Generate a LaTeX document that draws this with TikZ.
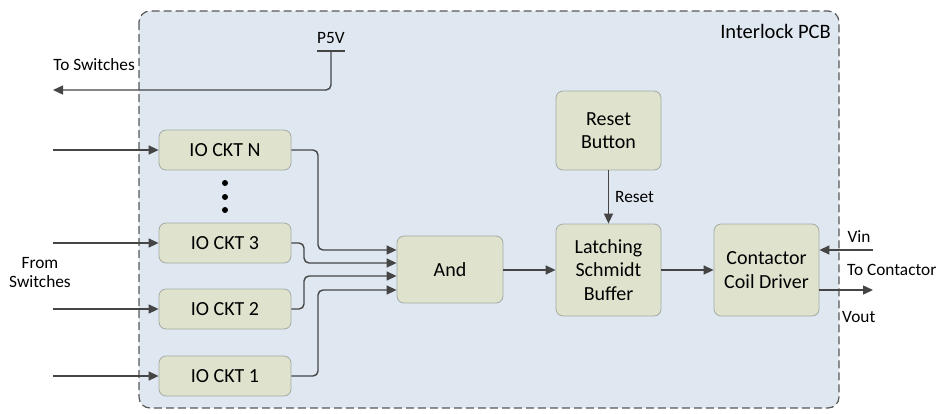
\documentclass[tikz,border=0pt]{standalone}
\usepackage{fontspec}
\setmainfont{Carlito}
\usetikzlibrary{arrows.meta}
\definecolor{pcbfill}{HTML}{DFE8F1}
\definecolor{boxfill}{HTML}{DFE3CD}
\definecolor{boxline}{HTML}{A3AAA3}
\definecolor{wire}{HTML}{454545}
\begin{document}
\begin{tikzpicture}[x=1pt,y=-1pt,
  blk/.style={draw=boxline, fill=boxfill, rounded corners=7pt, line width=0.8pt,
    align=center, inner sep=0pt, font=\fontsize{20}{23.5}\selectfont},
  lbl/.style={font=\fontsize{17.3}{19}\selectfont, inner sep=0pt},
  wr/.style={draw=wire, line width=1.4pt, rounded corners=5pt},
  arr/.style={wr, -{Triangle[length=10pt,width=9pt]}}]
\useasboundingbox (0,0) rectangle (944,413);
% PCB region
\draw[draw=wire!90, fill=pcbfill, dashed, dash pattern=on 8pt off 4pt, line width=1.2pt, rounded corners=11pt]
  (139,11) rectangle (839,408);
\node[lbl, font=\fontsize{20.5}{22}\selectfont, anchor=east] (pcb) at (831,31) {Interlock PCB};
% blocks
\node[blk, minimum width=132pt, minimum height=40pt] (ion) at (225,150) {IO CKT N};
\node[blk, minimum width=132pt, minimum height=40pt] (io3) at (225,243) {IO CKT 3};
\node[blk, minimum width=132pt, minimum height=40pt] (io2) at (225,309) {IO CKT 2};
\node[blk, minimum width=132pt, minimum height=40pt] (io1) at (225,376) {IO CKT 1};
\node[blk, minimum width=106pt, minimum height=67pt] (and) at (450,269.5) {And};
\node[blk, minimum width=105pt, minimum height=79pt] (rst) at (608.5,130.5) {Reset\\Button};
\node[blk, minimum width=105pt, minimum height=92pt] (lat) at (608.5,270) {Latching\\Schmidt\\Buffer};
\node[blk, minimum width=105pt, minimum height=92pt] (con) at (766.5,270) {Contactor\\Coil Driver};
% dots
\fill (225,183) circle (3pt) (225,197) circle (3pt) (225,210) circle (3pt);
% P5V
\node[lbl] (p5v) at (331,38) {P5V};
\coordinate (p5a) at (317,51);
\coordinate (p5b) at (345,51);
\draw[wr] (p5a) -- (p5b);
\coordinate (p5m) at (331,51);
\coordinate (tosw) at (53,90);
\draw[arr] (p5m) |- (tosw);
\node[lbl, anchor=east] (toswl) at (135,65) {To Switches};
% inputs
\coordinate (inN) at (53,150);
\coordinate (in3) at (53,243);
\coordinate (in2) at (53,309);
\coordinate (in1) at (53,376);
\draw[arr] (inN) -- (ion.west);
\draw[arr] (in3) -- (io3.west);
\draw[arr] (in2) -- (io2.west);
\draw[arr] (in1) -- (io1.west);
\node[lbl, align=center] (fromsw) at (40,272.5) {From\\Switches};
% to And
\draw[arr] (ion.east) -- (318,150) |- (and.west |- 0,250);
\draw[arr] (io3.east) -- (304,243) |- (and.west |- 0,263);
\draw[arr] (io2.east) -- (304,309) |- (and.west |- 0,276);
\draw[arr] (io1.east) -- (318,376) |- (and.west |- 0,290);
% chain
\draw[arr] (and.east |- 0,270) -- (lat.west |- 0,270);
\draw[arr] (lat.east |- 0,270) -- (con.west |- 0,270);
\draw[arr] (rst.south) -- (lat.north);
\node[lbl, anchor=west] (rstl) at (615,197) {Reset};
% contactor IO
\coordinate (vin) at (873,250);
\coordinate (vout) at (873,290);
\draw[arr] (vin) -- (con.east |- vin);
\draw[arr] (con.east |- vout) -- (vout);
\node[lbl] (vinl) at (859,237) {Vin};
\node[lbl, anchor=west] (tocl) at (847,270) {To Contactor};
\node[lbl, anchor=west] (voutl) at (842,317) {Vout};
\end{tikzpicture}
\end{document}
